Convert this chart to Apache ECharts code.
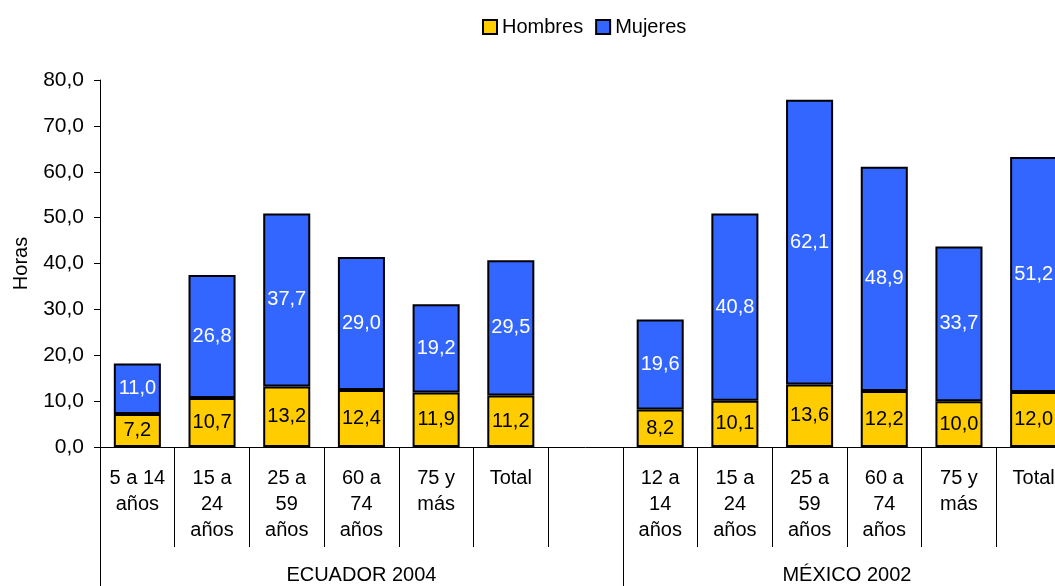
<!DOCTYPE html>
<html>
<head>
<meta charset="utf-8">
<script src="https://cdn.jsdelivr.net/npm/echarts@6/dist/echarts.min.js"></script>
<style>
html,body{margin:0;padding:0;background:#fff;overflow:hidden;width:1055px;height:586px;}
#chart{width:1071px;height:586px;}
</style>
</head>
<body>
<div id="chart"></div>
<script>
const categories = ['5 a 14\naños','15 a\n24\naños','25 a\n59\naños','60 a\n74\naños','75 y\nmás','Total','',
                    '12 a\n14\naños','15 a\n24\naños','25 a\n59\naños','60 a\n74\naños','75 y\nmás','Total'];
const hombres = [7.2, 10.7, 13.2, 12.4, 11.9, 11.2, null, 8.2, 10.1, 13.6, 12.2, 10.0, 12.0];
const mujeres = [11.0, 26.8, 37.7, 29.0, 19.2, 29.5, null, 19.6, 40.8, 62.1, 48.9, 33.7, 51.2];
const groups = ['ECUADOR 2004', 'MÉXICO 2002'];
const groupStart = [0, 7];
const groupEnd = [7, 13];
const yTicks = [0, 10, 20, 30, 40, 50, 60, 70, 80];

const fmt = v => Number(v).toFixed(1).replace('.', ',');
const groupCenters = groups.map((g, i) => (groupStart[i] + groupEnd[i]) / 2);
const FONT = 'Liberation Sans, Arial, sans-serif';

const chart = echarts.init(document.getElementById('chart'));
chart.setOption({
  backgroundColor: '#fff',
  animation: false,
  textStyle: { fontFamily: FONT, color: '#000' },
  legend: {
    left: 477, top: 12,
    itemWidth: 14, itemHeight: 14, itemGap: 12,
    icon: 'rect',
    textStyle: { fontSize: 20, color: '#000', fontFamily: FONT },
    data: ['Hombres', 'Mujeres']
  },
  grid: { left: 100, right: 0, top: 80, bottom: 139, containLabel: false },
  xAxis: [
    {
      type: 'category',
      data: categories,
      position: 'bottom',
      axisLine: { lineStyle: { color: '#000', width: 1 } },
      axisTick: { show: true, alignWithLabel: false, interval: 0, length: 100, lineStyle: { color: '#000' } },
      axisLabel: { interval: 0, margin: 18, fontSize: 20, lineHeight: 26, color: '#000', fontFamily: FONT },
      splitLine: { show: false }
    },
    {
      type: 'value',
      min: 0, max: categories.length,
      position: 'bottom',
      axisLine: { show: false },
      axisTick: { show: true, customValues: groupStart, length: 139, lineStyle: { color: '#000' } },
      axisLabel: {
        customValues: groupCenters, margin: 118, fontSize: 20, color: '#000', fontFamily: FONT,
        formatter: v => { const i = groupCenters.indexOf(v); return i >= 0 ? groups[i] : ''; }
      },
      splitLine: { show: false }
    }
  ],
  yAxis: {
    type: 'value',
    min: yTicks[0], max: yTicks[yTicks.length - 1], interval: 10,
    name: 'Horas', nameLocation: 'middle', nameGap: 69,
    nameTextStyle: { fontSize: 20, color: '#000', fontFamily: FONT },
    axisLine: { show: true, lineStyle: { color: '#000' } },
    axisTick: { show: true, length: 6, lineStyle: { color: '#000' } },
    axisLabel: { fontSize: 21, color: '#000', margin: 16, fontFamily: FONT, formatter: v => fmt(v) },
    splitLine: { show: false }
  },
  series: [
    {
      name: 'Hombres', type: 'bar', stack: 'total', xAxisIndex: 0,
      data: hombres, barWidth: '63%',
      itemStyle: { color: '#FFCC00', borderColor: '#000', borderWidth: 2 },
      label: { show: true, position: 'inside', color: '#000', fontSize: 20, fontFamily: FONT,
               formatter: p => fmt(p.value) }
    },
    {
      name: 'Mujeres', type: 'bar', stack: 'total', xAxisIndex: 0,
      data: mujeres, barWidth: '63%',
      itemStyle: { color: '#3366FF', borderColor: '#000', borderWidth: 2 },
      label: { show: true, position: 'inside', color: '#fff', fontSize: 20, fontFamily: FONT,
               formatter: p => fmt(p.value) }
    }
  ]
});
</script>
</body>
</html>
